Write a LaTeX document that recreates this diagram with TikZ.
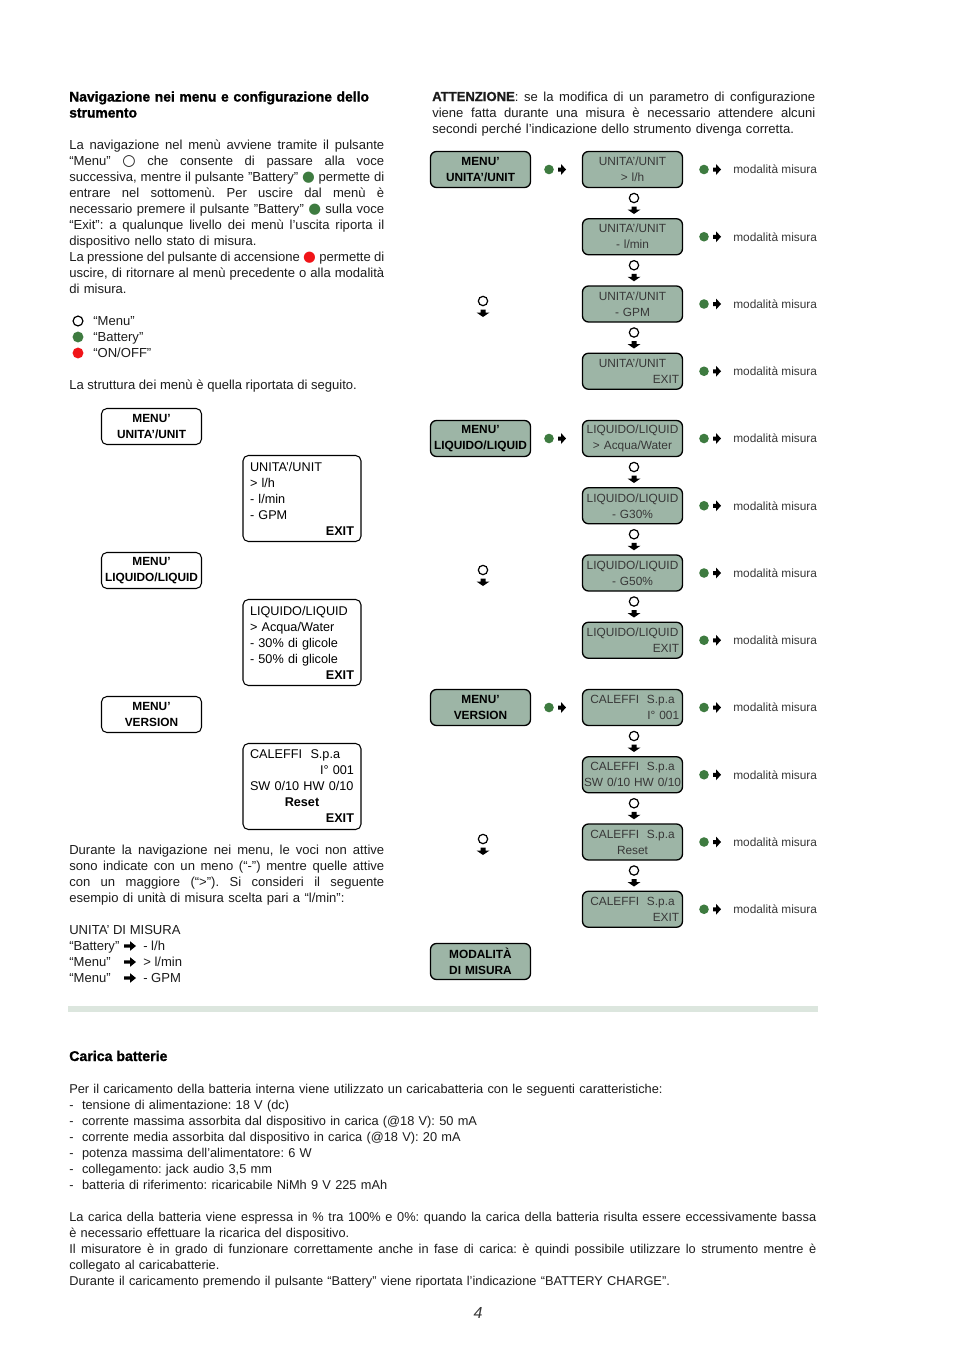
\documentclass[tikz,border=0pt]{standalone}
\usepackage{fontspec}
\setmainfont{Liberation Sans}
\newfontfamily\symfont{DejaVu Sans}
\newfontfamily\heavyfont{Liberation Sans Bold}[FakeBold=1.2]
\usetikzlibrary{positioning}
\setlength{\parindent}{0pt}
\frenchspacing
\definecolor{boxgreen}{HTML}{9DB5A6}
\definecolor{keygreen}{HTML}{3E7B40}
\definecolor{keyred}{HTML}{F01418}
\definecolor{barcol}{HTML}{DCE6DE}
\definecolor{ink}{HTML}{1C1C1C}
\definecolor{ink2}{HTML}{383838}
\newcommand{\bodysize}{\fontsize{9.8}{12}\selectfont}
\newcommand{\footsize}{\fontsize{9.6}{12}\selectfont}
\newcommand{\boxsize}{\fontsize{8.9}{12}\selectfont}
\newcommand{\headsize}{\fontsize{10.4}{12}\selectfont}
\newcommand{\keydot}[1]{{\symfont\fontsize{11}{12}\selectfont\raisebox{-0.3pt}{\textcolor{#1}{●}}}}
\newcommand{\keymenu}{{\symfont\fontsize{11.5}{12}\selectfont\raisebox{-0.3pt}{○}}}
\newcommand{\jl}[2][236.25pt]{{\spaceskip=0pt\xspaceskip=0pt\makebox[#1][s]{#2}}}
\newcommand{\rfill}{\hspace*{\fill}}

\begin{document}
\begin{tikzpicture}[
  x=0.75pt, y=-0.75pt,
  font=\bodysize, text=ink,
  txt/.style={anchor=base west, inner sep=0pt},
  lcol/.style={txt, text width=236.25pt, align=left},
  rcol/.style={txt, text width=287.25pt, align=left},
  fcol/.style={txt, text width=560.25pt, align=left, font=\footsize},
  head/.style={txt, font=\headsize\heavyfont, text=black},
  wbox/.style={draw=black, line width=0.8pt, rounded corners=4pt, fill=white,
               minimum width=75pt, minimum height=27pt, inner sep=1pt,
               align=center, font=\boxsize\bfseries, text=black},
  lbox/.style={draw=black, line width=0.8pt, rounded corners=4pt,
               minimum width=88.5pt, minimum height=64.5pt, inner xsep=5.25pt,
               text width=78pt, align=left, font=\fontsize{9.5}{12}\selectfont, text=black},
  gbox/.style={draw=black, line width=1pt, rounded corners=4.5pt, fill=boxgreen,
               minimum width=75pt, minimum height=27pt, inner xsep=0pt, inner ysep=1pt,
               text width=70pt, align=center, font=\boxsize, text=ink2},
  mbox/.style={gbox, font=\boxsize\bfseries, text=black},
  gdot/.style={circle, fill=keygreen, inner sep=0pt, minimum size=7.2pt},
  rdot/.style={gdot, fill=keyred},
  odot/.style={circle, draw=black, line width=0.9pt, fill=white, inner sep=0pt,
               minimum size=7pt},
  side/.style={anchor=west, inner sep=0pt, font=\boxsize, text=ink2},
  rarrow/.pic={\fill[black] (-4,-2) -- (-1,-2) -- (-1,-5.5) -- (4,0) -- (-1,5.5)
               -- (-1,2) -- (-4,2) -- cycle;},
  darrow/.pic={\fill[black] (-2.5,-4) -- (2.5,-4) -- (2.5,-1) -- (6.5,-1) -- (0,3.5)
               -- (-6.5,-1) -- (-2.5,-1) -- cycle;},
  larrow/.pic={\fill[black] (-6,-1.6) -- (0,-1.6) -- (0,-4.8) -- (6,0) -- (0,4.8)
               -- (0,1.6) -- (-6,1.6) -- cycle;}
]
\path[fill=white] (0,0) rectangle (954,1350);
\useasboundingbox (0,0) rectangle (954,1350);

% ==== column geometry (page pixels, y grows downwards)
\def\xl{69}   \def\xr{432}               % left column, right column
\def\ym{169.5} \def\dy{67.25}            % first menu row, row pitch
\def\xm{480.5} \def\xs{632.5}            % menu boxes, sub-item boxes

% ==== left column: heading and how the keys work
\node[head, text width=236.25pt, align=left] (navtitle) at (\xl,101.5)
  {Navigazione nei menu e configurazione dello\\strumento};
\node[lcol] (navtext) at (\xl,149)
  {\jl{La navigazione nel menù avviene tramite il pulsante}\\
   \jl{“Menu” \keymenu\ che consente di passare alla voce}\\
   \jl{successiva, mentre il pulsante "Battery" \keydot{keygreen} permette di}\\
   \jl{entrare nel sottomenù. Per uscire dal menù è}\\
   \jl{necessario premere il pulsante "Battery" \keydot{keygreen} sulla voce}\\
   \jl{“Exit”: a qualunque livello dei menù l’uscita riporta il}\\
   dispositivo nello stato di misura.\\
   \jl{La pressione del pulsante di accensione \keydot{keyred} permette di}\\
   \jl{uscire, di ritornare al menù precedente o alla modalità}\\
   di misura.};

% ==== legend of the three keys
\node[odot, minimum size=7.4pt] (kmenu) at (78,321) {};
\node[gdot, minimum size=8.2pt] (kbatt) at (78,337) {};
\node[rdot, minimum size=8.2pt] (konoff) at (78,353) {};
\node[txt] (lmenu) at (93,325) {“Menu”};
\node[txt] (lbatt) at (93,341) {“Battery”};
\node[txt] (lonoff) at (93,357) {“ON/OFF”};

\node[txt] (structure) at (\xl,389) {La struttura dei menù è quella riportata di seguito.};

% ==== menu structure
\node[wbox] (wunit) at (151.5,426.5) {MENU’\\UNITA’/UNIT};
\node[lbox] (lunit) at (302,498.5)
  {UNITA’/UNIT\\> l/h\\- l/min\\- GPM\\\rfill\textbf{EXIT}};
\node[wbox] (wliq) at (151.5,570.5) {MENU’\\LIQUIDO/LIQUID};
\node[lbox] (lliq) at (302,642.5)
  {LIQUIDO/LIQUID\\> Acqua/Water\\- 30\% di glicole\\- 50\% di glicole\\\rfill\textbf{EXIT}};
\node[wbox] (wver) at (151.5,714.5) {MENU’\\VERSION};
\node[lbox] (lver) at (302,786.5)
  {CALEFFI\ \ S.p.a\\\rfill I° 001\\SW 0/10 HW 0/10\\\rfill\textbf{Reset}\rfill\mbox{}\\\rfill\textbf{EXIT}};

\node[lcol] (navnote) at (\xl,854)
  {\jl{Durante la navigazione nei menu, le voci non attive}\\
   \jl{sono indicate con un meno (“-”) mentre quelle attive}\\
   \jl{con un maggiore (“>”). Si consideri il seguente}\\
   esempio di unità di misura scelta pari a “l/min”:};

% ==== worked example
\node[txt] (ex0) at (\xl,934) {UNITA’ DI MISURA};
\foreach \i/\btn/\val in {1/{“Battery”}/{- l/h}, 2/{“Menu”}/{> l/min}, 3/{“Menu”}/{- GPM}} {
  \node[txt] (exk\i) at (\xl,{934+16*\i}) {\btn};
  \node[txt] (exv\i) at (143,{934+16*\i}) {\val};
  \path (130,{930+16*\i}) pic {larrow};
}

% ==== right column: warning
\node[rcol] (warn) at (\xr,101)
  {\jl[287.25pt]{{\heavyfont ATTENZIONE}: se la modifica di un parametro di configurazione}\\
   \jl[287.25pt]{viene fatta durante una misura è necessario attendere alcuni}\\
   secondi perché l’indicazione dello strumento divenga corretta.};

% ==== sub-item boxes with their exit to measuring mode
\foreach \k/\la/\lb in {
   0/{UNITA’/UNIT}/{> l/h},
   1/{UNITA’/UNIT}/{- l/min},
   2/{UNITA’/UNIT}/{- GPM},
   3/{UNITA’/UNIT}/{\rfill EXIT},
   4/{LIQUIDO/LIQUID}/{> Acqua/Water},
   5/{LIQUIDO/LIQUID}/{- G30\%},
   6/{LIQUIDO/LIQUID}/{- G50\%},
   7/{LIQUIDO/LIQUID}/{\rfill EXIT},
   8/{CALEFFI\ \ S.p.a}/{\rfill I° 001},
   9/{CALEFFI\ \ S.p.a}/{\makebox[70pt]{SW 0/10 HW 0/10}},
   10/{CALEFFI\ \ S.p.a}/{Reset},
   11/{CALEFFI\ \ S.p.a}/{\rfill EXIT}} {
  \pgfmathsetmacro{\yy}{\ym+\dy*\k}
  \node[gbox] (g\k) at (\xs,\yy) {\la\\\lb};
  \node[gdot] (r\k) at (704,\yy) {};
  \path (r\k) ++(13,0) pic {rarrow};
  \node[side] (m\k) at (733,\yy) {modalità misura};
}

% ==== "Menu" steps down the sub-items
\foreach \k in {0,1,2,4,5,6,8,9,10} {
  \pgfmathsetmacro{\yy}{\ym+\dy*\k}
  \node[odot] (s\k) at (634,{\yy+28.5}) {};
  \path (s\k) ++(0,12.5) pic {darrow};
}

% ==== menu boxes, entered with "Battery"
\foreach \k/\lb in {0/{UNITA’/UNIT}, 4/{LIQUIDO/LIQUID}, 8/VERSION} {
  \pgfmathsetmacro{\yy}{\ym+\dy*\k}
  \node[mbox] (mb\k) at (\xm,\yy) {MENU’\\\lb};
  \node[gdot] (e\k) at (549,\yy) {};
  \path (e\k) ++(13,0) pic {rarrow};
}
\foreach \k in {2,6,10} {
  \pgfmathsetmacro{\yy}{\ym+\dy*\k}
  \node[odot] (n\k) at (483,{\yy-3}) {};
  \path (n\k) ++(0,12.5) pic {darrow};
}
\node[mbox] (mmis) at (\xm,961.5) {MODALITÀ\\DI MISURA};

% ==== separator
\fill[barcol] (68,1006) rectangle (818,1012);

% ==== battery charging
\node[head, font=\fontsize{10.6}{12}\selectfont\heavyfont] (chargetitle) at (\xl,1061) {Carica batterie};
\node[fcol] (chargelist) at (\xl,1093)
  {Per il caricamento della batteria interna viene utilizzato un caricabatteria con le seguenti caratteristiche:\\
   -\ \ tensione di alimentazione: 18 V (dc)\\
   -\ \ corrente massima assorbita dal dispositivo in carica (@18 V): 50 mA\\
   -\ \ corrente media assorbita dal dispositivo in carica (@18 V): 20 mA\\
   -\ \ potenza massima dell’alimentatore: 6 W\\
   -\ \ collegamento: jack audio 3,5 mm\\
   -\ \ batteria di riferimento: ricaricabile NiMh 9 V 225 mAh};
\node[fcol] (chargetext) at (\xl,1221)
  {\jl[560.25pt]{La carica della batteria viene espressa in \% tra 100\% e 0\%: quando la carica della batteria risulta essere eccessivamente bassa}\\
   è necessario effettuare la ricarica del dispositivo.\\
   \jl[560.25pt]{Il misuratore è in grado di funzionare correttamente anche in fase di carica: è quindi possibile utilizzare lo strumento mentre è}\\
   collegato al caricabatterie.\\
   Durante il caricamento premendo il pulsante “Battery” viene riportata l’indicazione “BATTERY CHARGE”.};

\node[font=\fontsize{12}{12}\selectfont\itshape, text=ink2] (pagenum) at (478,1313) {4};
\end{tikzpicture}
\end{document}
